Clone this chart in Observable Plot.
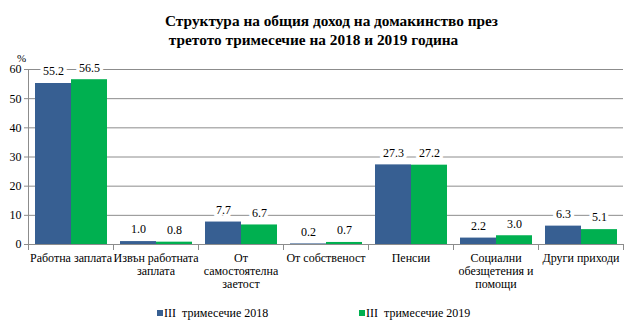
<!DOCTYPE html>
<html><head><meta charset="utf-8">
<script src="https://cdn.jsdelivr.net/npm/d3@7"></script>
<script src="https://cdn.jsdelivr.net/npm/@observablehq/plot@0.6"></script>
<style>
body{margin:0;background:#fff;}
#wrap{position:relative;width:630px;height:334px;overflow:hidden;font-family:"Liberation Serif","Times New Roman",serif;color:#000;}
#title{position:absolute;left:165px;top:12px;font-weight:bold;font-size:15px;line-height:19px;white-space:pre;transform-origin:0 0;}
#chart{position:absolute;left:0;top:52px;}
#chart svg, #chart svg text{font-family:"Liberation Serif","Times New Roman",serif !important;}
#pct{position:absolute;left:17px;top:52px;font-size:11px;}
.item{position:absolute;top:306px;display:flex;align-items:center;white-space:pre;font-size:12px;line-height:14px;}
.sw{width:6px;height:6px;margin-right:1px;}
</style>
</head><body>
<div id="wrap">
  <div id="title"><span id="t1">Структура на общия доход на домакинство през</span>
<span> третото тримесечие на 2018 и 2019 година</span></div>
  <div id="chart"></div>
  <div id="pct">%</div>
  <div id="legend"></div>
</div>
<script>
const categories = ["Работна заплата","Извън работната заплата","От самостоятелна заетост","От собственост","Пенсии","Социални обезщетения и помощи","Други приходи"];
const tickLabels = ["Работна заплата","Извън работната\nзаплата","От\nсамостоятелна\nзаетост","От собственост","Пенсии","Социални\nобезщетения и\nпомощи","Други приходи"];
const seriesNames = ["III  тримесечие 2018","III  тримесечие 2019"];
const values2018 = [55.2,1.0,7.7,0.2,27.3,2.2,6.3];
const values2019 = [56.5,0.8,6.7,0.7,27.2,3.0,5.1];
const yTicks = [0,10,20,30,40,50,60];
const colors = ["#375F92","#00B050"];

const data = categories.flatMap((c,i)=>[
  {category:c, series:seriesNames[0], value:values2018[i]},
  {category:c, series:seriesNames[1], value:values2019[i]}
]);
const gray = "#8c8c8c";

const chart = Plot.plot({
  width:630, height:250, marginTop:17, marginBottom:58, marginLeft:27, marginRight:7,
  style:{fontSize:"12px", color:"#000", background:"white"},
  fx:{domain:categories, padding:0, label:null},
  x:{domain:seriesNames, paddingInner:0, paddingOuter:0.15, axis:null},
  y:{domain:[0,60], label:null},
  color:{domain:seriesNames, range:colors},
  marks:[
    Plot.gridY(yTicks, {stroke:gray, strokeOpacity:1}),
    Plot.barY(data, {fx:"category", x:"series", y:"value", fill:"series"}),
    Plot.ruleY([0], {stroke:gray}),
    Plot.frame({anchor:"left", facetAnchor:"left", stroke:gray}),
    Plot.frame({anchor:"left", insetTop:175, insetBottom:-5, stroke:gray}),
    Plot.frame({anchor:"right", insetTop:175, insetBottom:-5, stroke:gray}),
    Plot.text(data, {fx:"category", x:"series", y:"value", text:d=>d.value.toFixed(1), dy:-12, fill:"black", stroke:"white", strokeWidth:7, paintOrder:"stroke", fontSize:12}),
    Plot.axisY(yTicks, {tickSize:4, tickPadding:3, stroke:gray, label:null}),
    Plot.axisFx({anchor:"bottom", tickSize:0, tickPadding:8, tickFormat:c=>tickLabels[categories.indexOf(c)], label:null, lineHeight:1.1})
  ]
});
document.getElementById("chart").appendChild(chart);

// stretch the title horizontally to the reference's wide look
const t1w = document.getElementById("t1").getBoundingClientRect().width;
document.getElementById("title").style.transform = `scaleX(${333 / t1w})`;

const legend = document.getElementById("legend");
const legendX = [157, 359];
seriesNames.forEach((s,i)=>{
  const it = document.createElement("div");
  it.className = "item";
  it.style.left = legendX[i] + "px";
  it.innerHTML = `<span class="sw" style="background:${colors[i]}"></span><span>${s}</span>`;
  legend.appendChild(it);
});
</script>
</body></html>
